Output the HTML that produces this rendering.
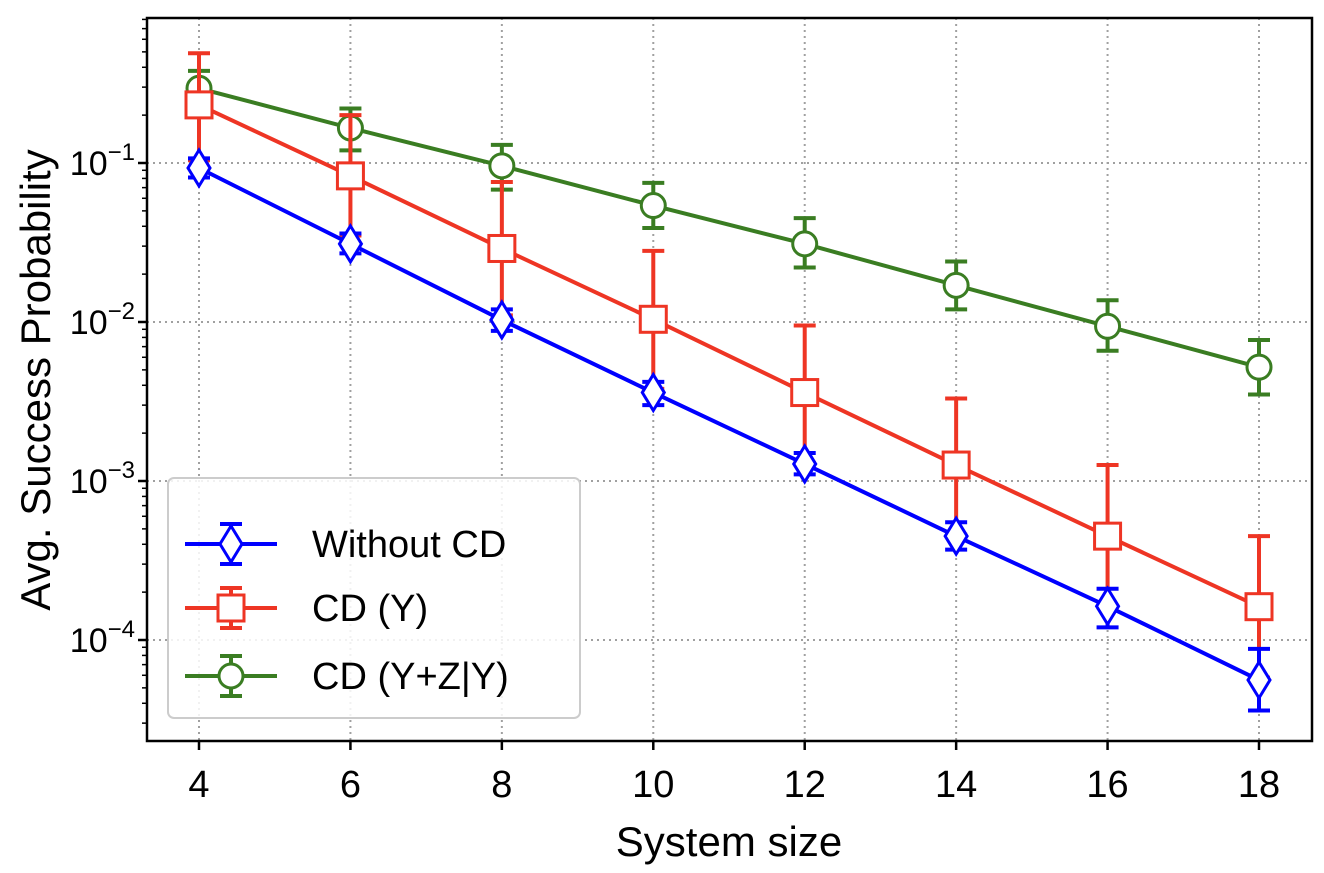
<!DOCTYPE html>
<html><head><meta charset="utf-8"><style>
html,body{margin:0;padding:0;background:#fff;}
svg text{font-family:"Liberation Sans",sans-serif;}
</style></head><body>
<svg id="chart" width="1324" height="868" xmlns="http://www.w3.org/2000/svg">
<g id="grid"></g>
<g id="series"></g>
<rect x="147" y="18" width="1165" height="723" fill="none" stroke="#000" stroke-width="2.5"/>
<g id="axes"></g>
<text x="729" y="856" font-size="42" text-anchor="middle">System size</text>
<text transform="translate(50,380) rotate(-90)" font-size="42" text-anchor="middle">Avg. Success Probability</text>
<g id="legend"></g>
</svg>
<script>
const systemSizes=[4,6,8,10,12,14,16,18];
const withoutCD=[0.093,0.031,0.0103,0.0036,0.00128,0.00045,0.000163,0.000056];
const withoutCDLow=[0.081,0.027,0.0088,0.0030,0.00110,0.00037,0.000120,0.000036];
const withoutCDHigh=[0.107,0.036,0.0120,0.0042,0.00150,0.00055,0.000210,0.000088];
const cdY=[0.232,0.083,0.029,0.0104,0.0036,0.00126,0.00045,0.000162];
const cdYLow=[0.104,0.035,0.011,0.0038,0.00130,0.00046,0.000160,0.000058];
const cdYHigh=[0.49,0.2,0.076,0.028,0.0095,0.0033,0.00126,0.00045];
const cdYZ=[0.295,0.166,0.096,0.054,0.031,0.017,0.0094,0.0052];
const cdYZLow=[0.24,0.12,0.068,0.039,0.022,0.012,0.0066,0.0035];
const cdYZHigh=[0.38,0.22,0.13,0.075,0.045,0.024,0.0137,0.0077];
const xTicks=[4,6,8,10,12,14,16,18];
const yTickExps=[-1,-2,-3,-4];

const NS="http://www.w3.org/2000/svg";
const L=147,R=1312,T=18,B=741;
const X=v=>199+(v-4)*(1259-199)/14;
const Y=v=>163+(-1-Math.log10(v))*159;
function mk(tag,attrs,parent){const e=document.createElementNS(NS,tag);for(const k in attrs)e.setAttribute(k,attrs[k]);parent.appendChild(e);return e;}
const grid=document.getElementById('grid'),axes=document.getElementById('axes'),ser=document.getElementById('series'),leg=document.getElementById('legend');
xTicks.forEach(t=>{
 const g=mk('line',{x1:X(t),x2:X(t),y1:T,y2:B,stroke:'#a0a0a0','stroke-width':2,'stroke-dasharray':'2,4'},grid);
 
 const tk=mk('line',{x1:X(t),x2:X(t),y1:B,y2:B+9,stroke:'#000','stroke-width':2.5},axes);
 
 const tx=mk('text',{x:X(t),y:B+56,'font-size':38,'text-anchor':'middle'},axes);tx.textContent=t;
 
});
yTickExps.forEach(e=>{
 const y=Y(Math.pow(10,e));
 const g=mk('line',{x1:L,x2:R,y1:y,y2:y,stroke:'#a0a0a0','stroke-width':2,'stroke-dasharray':'2,4'},grid);
 
 const tk=mk('line',{x1:L-9,x2:L,y1:y,y2:y,stroke:'#000','stroke-width':2.5},axes);
 
 const tx=mk('text',{x:L-12,y:y+12,'font-size':34,'text-anchor':'end','font-family':'Liberation Serif, serif'},axes);
 
 tx.innerHTML='10<tspan dy="-15" font-size="24">−'+(-e)+'</tspan>';
});
for(let e=-5;e<0;e++)for(let m=2;m<10;m++){const v=m*Math.pow(10,e);const y=Y(v);if(y<T||y>B)continue;
 const t=mk('line',{x1:L-5,x2:L,y1:y,y2:y,stroke:'#000','stroke-width':1.5},axes);}

function marker(kind,cx,cy,color,parent){
 let e;
 if(kind==='diamond')e=mk('polygon',{points:`${cx},${cy-18} ${cx+11},${cy} ${cx},${cy+18} ${cx-11},${cy}`},parent);
 else if(kind==='square')e=mk('rect',{x:cx-13,y:cy-13,width:26,height:26},parent);
 else e=mk('circle',{cx:cx,cy:cy,r:12},parent);
 e.setAttribute('fill','#fff');e.setAttribute('stroke',color);e.setAttribute('stroke-width',3);
 return e;
}
function series(name,vals,lo,hi,color,kind){
 const g=mk('g',{},ser);
 const pl=mk('polyline',{points:systemSizes.map((s,i)=>X(s)+','+Y(vals[i])).join(' '),fill:'none',stroke:color,'stroke-width':4},g);
 
 systemSizes.forEach((s,i)=>{
  const x=X(s),y1=Y(lo[i]),y2=Y(hi[i]);
  const eb=mk('path',{d:`M${x},${y1}V${y2}M${x-11},${y1}H${x+11}M${x-11},${y2}H${x+11}`,stroke:color,'stroke-width':4,fill:'none'},g);
  
 });
 systemSizes.forEach((s,i)=>{const m=marker(kind,X(s),Y(vals[i]),color,g);
  });
}
series('cd-y-z-series',cdYZ,cdYZLow,cdYZHigh,'#3a7d22','circle');
series('cd-y-series',cdY,cdYLow,cdYHigh,'#ee3524','square');
series('without-cd-series',withoutCD,withoutCDLow,withoutCDHigh,'#0000ff','diamond');

const box=mk('rect',{x:168,y:478,width:412,height:240,rx:6,fill:'#fff','fill-opacity':0.85,stroke:'#ccc','stroke-width':2},leg);

[['Without CD','#0000ff','diamond',544],['CD (Y)','#ee3524','square',608],['CD (Y+Z|Y)','#3a7d22','circle',676]].forEach(([lab,c,k,y])=>{
 const g=mk('g',{},leg);
 mk('path',{d:`M185,${y}H277M231,${y-20}V${y+20}M220,${y-20}H242M220,${y+20}H242`,stroke:c,'stroke-width':4,fill:'none'},g);
 marker(k,231,y,c,g);
 const t=mk('text',{x:312,y:y+13,'font-size':38},g);t.textContent=lab;
});
</script>
</body></html>
